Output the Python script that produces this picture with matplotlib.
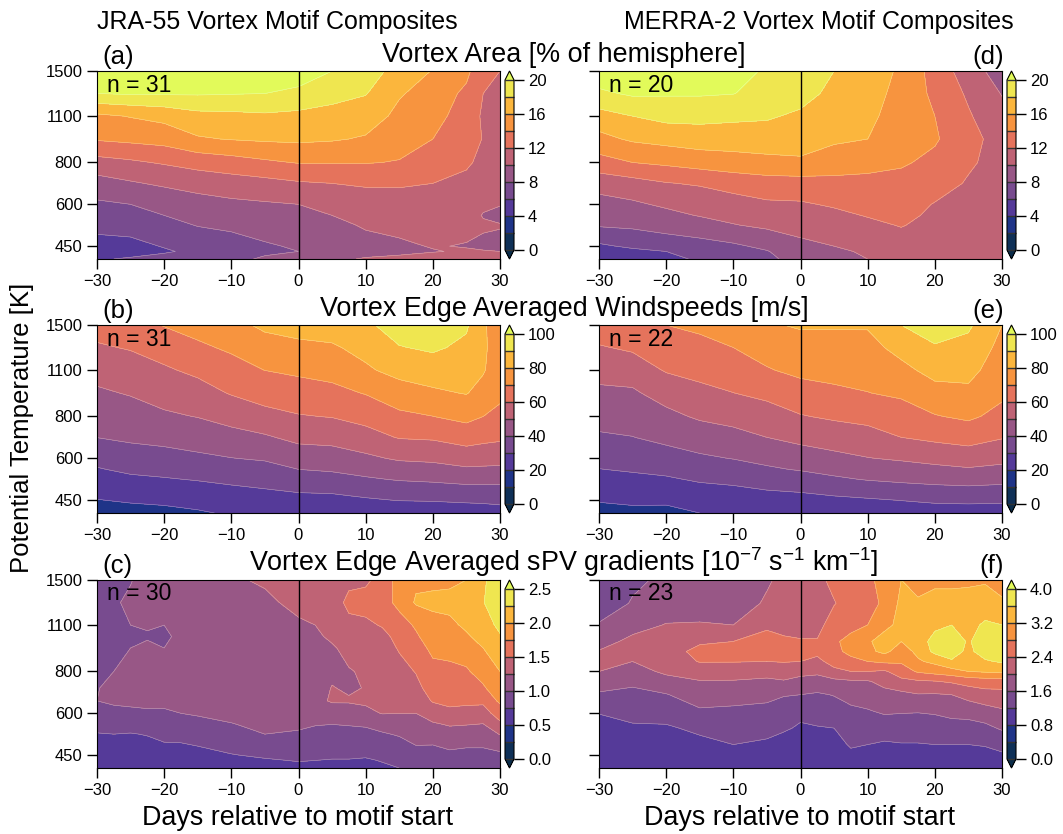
import numpy as np
import matplotlib
matplotlib.use("Agg")
import matplotlib.pyplot as plt

plt.rcParams['font.family'] = ['Liberation Sans', 'DejaVu Sans']
plt.rcParams['mathtext.fontset'] = 'custom'
plt.rcParams['mathtext.rm'] = 'Liberation Sans'
plt.rcParams['mathtext.default'] = 'regular'

days = [-30, -25, -20, -15, -10, -5, 0, 5, 10, 15, 20, 25, 30]
days_ab = [-30, -25, -20, -15, -10, -5, 0, 5, 10, 15, 20, 25, 27.5, 30]
theta = [412, 434, 450, 520, 556, 600, 693, 800, 940, 1100, 1285, 1500]
days_c = [-30, -27.5, -25, -22.5, -20, -17.5, -15, -10, -5, 0, 2.5, 5, 7.5, 10, 12.5, 15, 17.5, 20, 22.5, 25, 27.5, 30]
theta_c = [412, 434, 450, 520, 556, 600, 654, 714, 800, 940, 1017, 1100, 1285, 1500]
days_f = [-30, -25, -20, -15, -10, -5, -2.5, 0, 2.5, 5, 7.5, 10, 12.5, 15, 17.5, 20, 22.5, 25, 27.5, 30]
theta_f = [412, 484, 542, 608, 682, 747, 800, 857, 918, 983, 1101, 1278, 1500]

# every inner list is one day, from the lowest level upward
area_jra = [
    [5.8, 5.1, 5.4, 6.5, 7.1, 7.7, 9.2, 11.3, 14.2, 15.6, 20.0, 22.0],
    [6.2, 5.3, 5.5, 6.7, 7.3, 8.0, 9.8, 11.7, 14.5, 16.1, 20.2, 22.0],
    [6.6, 5.8, 6.1, 7.3, 8.0, 8.7, 10.3, 12.2, 14.8, 16.6, 20.2, 22.0],
    [7.0, 6.4, 6.6, 8.1, 8.7, 9.3, 10.7, 12.8, 15.8, 17.4, 20.2, 22.0],
    [7.4, 6.9, 7.2, 8.4, 9.0, 9.6, 11.1, 13.2, 16.1, 17.5, 20.1, 22.0],
    [8.3, 7.6, 7.8, 8.8, 9.3, 9.8, 11.4, 13.7, 16.3, 17.7, 20.0, 22.0],
    [8.9, 8.0, 8.2, 9.1, 9.5, 10.0, 11.8, 14.1, 16.4, 17.5, 19.6, 21.0],
    [9.5, 8.7, 8.9, 9.5, 10.0, 10.5, 12.0, 14.1, 16.2, 17.4, 18.6, 20.0],
    [10.2, 9.2, 9.4, 10.2, 10.7, 11.2, 12.2, 14.1, 15.8, 17.0, 18.1, 18.9],
    [10.4, 9.6, 9.7, 10.5, 10.9, 11.3, 12.2, 13.9, 14.8, 15.5, 16.2, 17.3],
    [10.8, 9.9, 10.1, 10.7, 11.0, 11.4, 12.0, 13.1, 14.0, 14.6, 15.1, 15.9],
    [11.0, 10.2, 9.9, 10.5, 10.7, 11.0, 11.5, 12.3, 13.0, 13.2, 13.6, 14.5],
    [10.9, 10.1, 9.7, 10.2, 9.9, 10.3, 10.9, 11.5, 11.9, 11.7, 12.0, 12.4],
    [10.8, 10.0, 9.6, 10.1, 9.5, 10.1, 10.5, 11.0, 11.2, 11.3, 11.5, 12.0],
]
area_merra = [
    [4.8, 5.1, 5.7, 8.2, 8.8, 9.3, 10.8, 13.3, 15.4, 17.3, 19.6, 21.5],
    [5.0, 5.6, 6.3, 8.4, 9.0, 9.7, 11.3, 14.0, 16.3, 18.0, 20.3, 22.0],
    [5.4, 6.0, 6.8, 8.9, 9.5, 10.3, 11.9, 14.4, 16.7, 18.6, 20.2, 22.0],
    [6.3, 6.8, 7.3, 9.2, 10.1, 10.8, 12.2, 14.9, 17.0, 18.6, 20.2, 22.0],
    [6.9, 7.4, 7.7, 9.9, 10.6, 11.2, 12.8, 15.2, 17.0, 18.4, 20.05, 20.3],
    [7.6, 7.9, 8.4, 10.4, 11.0, 11.7, 13.2, 15.4, 17.2, 18.2, 19.3, 19.9],
    [8.7, 9.1, 9.5, 10.8, 11.3, 11.8, 13.2, 15.7, 16.9, 17.7, 18.7, 19.6],
    [9.2, 9.6, 10.0, 11.0, 11.6, 12.2, 13.4, 15.1, 16.3, 16.9, 17.5, 18.0],
    [10.0, 10.3, 10.6, 11.6, 12.1, 12.6, 13.5, 14.6, 16.0, 16.5, 16.9, 17.0],
    [10.6, 10.9, 11.2, 12.1, 12.4, 12.8, 13.5, 14.2, 14.7, 15.0, 15.3, 15.7],
    [10.6, 10.8, 11.0, 11.4, 11.7, 11.9, 12.9, 13.6, 14.2, 14.0, 13.6, 13.2],
    [10.5, 10.6, 10.8, 11.1, 11.2, 11.4, 11.8, 12.3, 12.8, 12.2, 11.7, 11.0],
    [10.4, 10.4, 10.5, 10.6, 10.7, 10.8, 11.0, 11.2, 11.0, 10.6, 9.9, 9.0],
]
wind_jra = [
    [15, 18, 19.7, 26, 29.3, 33, 40.1, 44.2, 48.6, 53.6, 58.9, 64],
    [17, 19.2, 21, 28.3, 31.8, 35.6, 41.7, 45.9, 50.7, 55.8, 60.7, 66],
    [18, 20, 22, 29.4, 32.8, 36.6, 42.9, 48.6, 53.8, 58.7, 64.4, 70.5],
    [19, 21.4, 23.3, 30.6, 34.2, 38.3, 44.4, 50.3, 56.2, 62.1, 68.2, 74],
    [21, 23.6, 25.4, 31.9, 35.6, 39.8, 46.7, 53.6, 60.7, 66.2, 71.6, 77],
    [22.5, 24.8, 26.6, 33.1, 36.9, 41, 48.8, 57.4, 63.6, 70.1, 76, 82],
    [22.5, 25.7, 27.3, 35.2, 40, 44.7, 52.6, 59.4, 65.8, 71.8, 77.2, 85],
    [23, 25.5, 27.2, 36.7, 41.1, 45.5, 53.3, 60.4, 67.4, 73.4, 78.8, 85],
    [24, 26.2, 28.9, 38.9, 43.4, 48.2, 56.2, 63.4, 70.5, 78.6, 83, 88],
    [25, 27.5, 30.3, 40.8, 45.8, 51.2, 60.6, 67.9, 75.9, 83.1, 89.5, 95],
    [25, 27.7, 30.7, 41.7, 46.7, 52, 61.3, 69.9, 78.4, 85.3, 91.5, 96],
    [25, 28.5, 31.6, 43.1, 48.7, 54.5, 64.3, 72.8, 80.5, 84.2, 87.8, 91.5],
    [25.5, 29, 31.8, 43, 48.4, 54, 62.7, 70, 76.3, 81, 81.5, 80.5],
    [26, 29.7, 32.5, 42.8, 48.2, 53.4, 61.7, 68, 71.8, 73.6, 75.5, 78],
]
wind_merra = [
    [17, 19, 20.7, 26.9, 29.8, 32.9, 38.8, 43.4, 48.1, 53.5, 59.2, 66],
    [18, 20, 21.7, 28, 30.9, 34, 39.8, 44.1, 48.6, 54.8, 61.5, 68],
    [18, 19.9, 21.8, 28.9, 32.4, 36.2, 42.4, 47.5, 54, 60.8, 65.3, 70],
    [20, 22, 24, 31.2, 34.7, 38.6, 45, 51.3, 57.6, 62.9, 67.3, 72],
    [21, 23, 25, 32.3, 36.2, 40.3, 47.1, 53.2, 59.9, 65, 70, 76],
    [22, 24.4, 26, 34.7, 38.7, 42.6, 50, 55.8, 62.4, 69.3, 74, 79],
    [23, 25, 26.9, 35.7, 40.7, 45.2, 52.8, 59.4, 66.4, 72.2, 76.5, 81],
    [24, 26.2, 28, 38.5, 43.1, 47.6, 54.7, 61.4, 68.4, 72.8, 76.4, 81],
    [25, 27, 29, 40.7, 45, 49.7, 56.3, 63, 69.8, 73.5, 76.6, 81],
    [26, 28, 30.2, 42.1, 46.4, 51.1, 60, 65.6, 71.6, 77.3, 83.4, 90],
    [26, 28.7, 31.9, 43.1, 47.7, 53, 62.2, 69.4, 76.7, 83.3, 89.1, 95],
    [26, 29.1, 32.3, 43.9, 49.1, 54.7, 64, 71.7, 78, 83, 87.4, 91.5],
    [27, 28.8, 31.7, 43, 47.7, 52.7, 60.6, 67, 72, 74.5, 77, 80],
]
grad_jra = [
    [.58, .60, .62, .74, .82, .90, 1.00, .99, .93, .92, .92, .92, .94, .96],
    [.59, .61, .63, .75, .84, .93, 1.04, 1.05, 1.00, .97, .94, .94, .98, .96],
    [.60, .62, .63, .74, .83, .94, 1.06, 1.10, 1.06, 1.00, .97, 1.00, 1.03, .99],
    [.59, .62, .65, .76, .85, .96, 1.07, 1.12, 1.10, 1.02, .99, 1.01, 1.05, 1.07],
    [.58, .62, .66, .81, .88, .97, 1.05, 1.12, 1.12, 1.00, .96, 1.00, 1.06, 1.10],
    [.58, .63, .67, .81, .90, 1.00, 1.08, 1.14, 1.15, 1.05, 1.05, 1.06, 1.12, 1.15],
    [.58, .64, .68, .85, .94, 1.02, 1.09, 1.15, 1.18, 1.20, 1.20, 1.20, 1.20, 1.20],
    [.62, .69, .74, .91, .99, 1.06, 1.11, 1.16, 1.20, 1.20, 1.20, 1.20, 1.22, 1.23],
    [.66, .73, .78, 1.00, 1.05, 1.10, 1.14, 1.18, 1.20, 1.20, 1.20, 1.21, 1.22, 1.27],
    [.70, .76, .80, .98, 1.03, 1.07, 1.11, 1.15, 1.18, 1.20, 1.21, 1.23, 1.29, 1.35],
    [.70, .75, .79, .94, 1.01, 1.08, 1.20, 1.14, 1.16, 1.20, 1.22, 1.25, 1.33, 1.38],
    [.68, .74, .78, .93, 1.00, 1.15, 1.27, 1.26, 1.20, 1.23, 1.28, 1.33, 1.40, 1.42],
    [.68, .74, .78, .94, 1.01, 1.16, 1.27, 1.22, 1.24, 1.30, 1.37, 1.45, 1.55, 1.45],
    [.68, .73, .77, .93, 1.03, 1.19, 1.29, 1.26, 1.27, 1.35, 1.40, 1.45, 1.60, 1.45],
    [.72, .76, .80, .98, 1.08, 1.26, 1.30, 1.33, 1.35, 1.40, 1.43, 1.52, 1.65, 1.60],
    [.75, .80, .85, 1.02, 1.14, 1.25, 1.31, 1.37, 1.43, 1.52, 1.58, 1.65, 1.82, 1.85],
    [.80, .88, .92, 1.10, 1.15, 1.25, 1.36, 1.45, 1.51, 1.66, 1.72, 1.78, 2.03, 1.95],
    [.80, .88, .93, 1.08, 1.22, 1.37, 1.52, 1.58, 1.69, 1.80, 1.87, 1.93, 2.05, 1.95],
    [.82, .90, .95, 1.16, 1.27, 1.45, 1.55, 1.60, 1.70, 1.82, 1.88, 1.95, 2.07, 1.95],
    [.82, .89, .94, 1.12, 1.26, 1.42, 1.55, 1.61, 1.72, 1.88, 1.97, 2.04, 2.13, 2.00],
    [.83, .90, .93, 1.14, 1.24, 1.40, 1.55, 1.72, 1.85, 2.00, 2.08, 2.15, 2.24, 2.20],
    [.85, .90, .95, 1.26, 1.45, 1.61, 1.80, 1.90, 2.00, 2.15, 2.23, 2.30, 2.40, 2.45],
]
grad_merra = [
    [.95, 1.00, 1.10, 1.22, 1.55, 1.80, 2.00, 2.30, 2.02, 1.85, 1.62, 1.45, 1.40],
    [.95, 1.02, 1.14, 1.35, 1.50, 1.68, 1.85, 2.00, 2.20, 2.10, 1.85, 1.62, 1.55],
    [.95, 1.05, 1.15, 1.38, 1.58, 1.87, 2.07, 2.20, 2.25, 2.20, 2.02, 1.75, 1.65],
    [.90, 1.10, 1.28, 1.55, 1.80, 1.98, 2.18, 2.42, 2.50, 2.35, 2.03, 1.80, 1.70],
    [.95, 1.20, 1.35, 1.53, 1.75, 1.98, 2.15, 2.42, 2.50, 2.40, 2.00, 1.80, 1.75],
    [.95, 1.15, 1.30, 1.50, 1.70, 1.95, 2.10, 2.40, 2.50, 2.50, 2.35, 2.05, 1.95],
    [.95, 1.05, 1.25, 1.45, 1.62, 1.97, 2.20, 2.42, 2.55, 2.45, 2.30, 2.15, 2.10],
    [.95, 1.00, 1.15, 1.30, 1.60, 1.90, 2.10, 2.40, 2.50, 2.42, 2.30, 2.20, 2.15],
    [.95, 1.00, 1.18, 1.35, 1.55, 1.87, 2.07, 2.30, 2.50, 2.42, 2.30, 2.22, 2.30],
    [.95, 1.03, 1.20, 1.40, 1.62, 1.90, 2.30, 2.55, 2.70, 2.75, 2.55, 2.38, 2.50],
    [.95, 1.25, 1.38, 1.52, 1.74, 1.95, 2.40, 2.70, 2.90, 2.90, 2.70, 2.55, 2.55],
    [.95, 1.20, 1.38, 1.57, 1.80, 1.97, 2.40, 2.80, 3.10, 3.15, 2.80, 2.70, 2.70],
    [1.00, 1.15, 1.40, 1.65, 1.90, 2.10, 2.35, 2.88, 3.30, 3.35, 3.10, 2.85, 2.95],
    [1.00, 1.18, 1.40, 1.63, 1.90, 2.30, 2.60, 2.85, 3.00, 3.20, 3.30, 3.30, 3.20],
    [1.00, 1.18, 1.40, 1.62, 1.98, 2.35, 2.85, 3.15, 3.30, 3.40, 3.40, 3.25, 3.05],
    [1.00, 1.20, 1.40, 1.65, 1.97, 2.38, 2.95, 3.30, 3.70, 3.75, 3.50, 3.35, 3.10],
    [1.00, 1.20, 1.45, 1.72, 2.00, 2.45, 3.05, 3.55, 3.80, 3.85, 3.60, 3.35, 3.10],
    [1.00, 1.20, 1.45, 1.75, 2.15, 2.55, 3.20, 3.35, 3.50, 3.55, 3.50, 3.40, 3.10],
    [1.00, 1.22, 1.50, 1.85, 2.25, 2.60, 3.25, 3.55, 3.80, 3.85, 3.65, 3.40, 3.15],
    [1.00, 1.30, 1.65, 1.95, 2.27, 2.60, 3.30, 3.65, 3.80, 3.85, 3.60, 3.30, 2.90],
]

counts = {'a': 31, 'b': 31, 'c': 30, 'd': 20, 'e': 22, 'f': 23}
band_colors = ['#0a2c4a', '#0f3057', '#1f3488', '#553a99', '#784b8f', '#985786',
               '#bf6375', '#e5735c', '#f7943f', '#fbb63d', '#efe650', '#e2fa5a']

panels = [
    ('a', days_ab, theta, area_jra, np.arange(0, 20.1, 2), [0, 4, 8, 12, 16, 20], '%d', 97, 71),
    ('b', days_ab, theta, wind_jra, np.arange(0, 100.1, 10), [0, 20, 40, 60, 80, 100], '%d', 97, 325),
    ('c', days_c, theta_c, grad_jra, np.arange(0, 2.51, .25), [0, .5, 1, 1.5, 2, 2.5], '%.1f', 97, 580),
    ('d', days, theta, area_merra, np.arange(0, 20.1, 2), [0, 4, 8, 12, 16, 20], '%d', 599, 71),
    ('e', days, theta, wind_merra, np.arange(0, 100.1, 10), [0, 20, 40, 60, 80, 100], '%d', 599, 325),
    ('f', days_f, theta_f, grad_merra, np.arange(0, 4.01, .4), [0, .8, 1.6, 2.4, 3.2, 4], '%.1f', 599, 580),
]

W, H = 1063, 834
fig = plt.figure(figsize=(W / 100, H / 100), dpi=100)
AW, AH = 403, 188

for tag, xs, ys, vals, lev, cticks, cfmt, px, py in panels:
    ax = fig.add_axes([px / W, 1 - (py + AH) / H, AW / W, AH / H])
    z = np.array(vals).T
    cs = ax.contourf(xs, ys, z, levels=lev, colors=band_colors, extend='both')
    ax.contour(xs, ys, z, levels=lev, colors='white', linewidths=0.4, alpha=0.45)
    ax.axvline(0, color='black', lw=1.0)
    ax.set_yscale('log')
    ax.set_ylim(412, 1500)
    ax.set_xlim(-30, 30)
    ax.set_yticks([450, 600, 800, 1100, 1500])
    ax.minorticks_off()
    if px < 300:
        ax.set_yticklabels(['450', '600', '800', '1100', '1500'], fontsize=12)
    else:
        ax.set_yticklabels([])
    ax.set_xticks([-30, -20, -10, 0, 10, 20, 30])
    ax.set_xticklabels(['\u221230', '\u221220', '\u221210', '0', '10', '20', '30'], fontsize=12)
    ax.tick_params(length=7, width=1)
    fig.text((px + 10) / W, 1 - (py + 14) / H, 'n = %d' % counts[tag], fontsize=16.5, va='center', ha='left')
    if px < 300:
        fig.text((px + 5) / W, 1 - (py - 14) / H, '(%s)' % tag, fontsize=18.5, va='center', ha='left')
    else:
        fig.text((px + 405) / W, 1 - (py - 14) / H, '(%s)' % tag, fontsize=18.5, va='center', ha='right')
    cax = fig.add_axes([(px + 408) / W, 1 - (py + AH) / H, 9 / W, AH / H])
    cb = fig.colorbar(cs, cax=cax, ticks=cticks, drawedges=True, extendfrac=0.053, format=cfmt)
    cb.ax.tick_params(labelsize=12, length=7, width=1, pad=3)
    cb.dividers.set_color('#333333')
    cb.dividers.set_linewidth(1.0)
    cb.outline.set_linewidth(0.8)

fig.text(277 / W, 1 - 22 / H, 'JRA-55 Vortex Motif Composites', fontsize=18, ha='center', va='center')
fig.text(819 / W, 1 - 22 / H, 'MERRA-2 Vortex Motif Composites', fontsize=18, ha='center', va='center')
fig.text(564 / W, 1 - 54.5 / H, 'Vortex Area [% of hemisphere]', fontsize=19.4, ha='center', va='center')
fig.text(564 / W, 1 - 309 / H, 'Vortex Edge Averaged Windspeeds [m/s]', fontsize=19.4, ha='center', va='center')
fig.text(564 / W, 1 - 562 / H, 'Vortex Edge Averaged sPV gradients [$10^{-7}$ s$^{-1}$ km$^{-1}$]', fontsize=19.4, ha='center', va='center')
fig.text(22 / W, 1 - 428 / H, 'Potential Temperature [K]', fontsize=18.5, rotation=90, ha='center', va='center')
fig.text(298 / W, 1 - 818 / H, 'Days relative to motif start', fontsize=19.4, ha='center', va='center')
fig.text(800 / W, 1 - 818 / H, 'Days relative to motif start', fontsize=19.4, ha='center', va='center')

fig.savefig('out.png', dpi=100)
